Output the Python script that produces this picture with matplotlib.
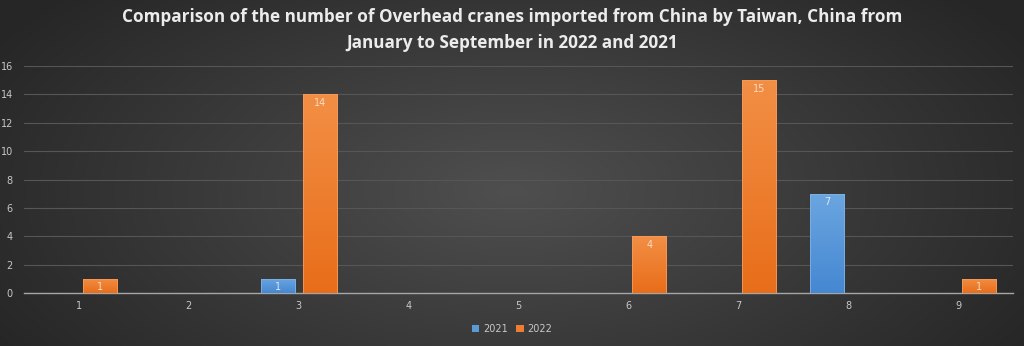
import numpy as np
import matplotlib
matplotlib.use("Agg")
import matplotlib.pyplot as plt
from matplotlib.patches import Rectangle, Patch

months = ["1", "2", "3", "4", "5", "6", "7", "8", "9"]
y2021 = [0, 0, 1, 0, 0, 0, 0, 7, 0]
y2022 = [1, 0, 14, 0, 0, 4, 15, 0, 1]
series_names = ["2021", "2022"]
yticks = [0, 2, 4, 6, 8, 10, 12, 14, 16]

title = ("Comparison of the number of Overhead cranes imported from China by Taiwan, China from\n"
         "January to September in 2022 and 2021")

W, H = 1024, 346
fig = plt.figure(figsize=(W / 100, H / 100), dpi=100)

# radial dark background
bg = fig.add_axes([0, 0, 1, 1])
bg.set_axis_off()
yy, xx = np.mgrid[0:H, 0:W]
r = np.sqrt(((xx - W * 0.5) / (W * 0.55)) ** 2 + ((yy - H * 0.55) / (H * 0.8)) ** 2)
shade = np.clip(0.31 - 0.15 * r, 0.15, 0.32)
bg.imshow(np.dstack([shade] * 3), extent=[0, 1, 0, 1], aspect="auto", zorder=0)
bg.set_xlim(0, 1)
bg.set_ylim(0, 1)

ax = fig.add_axes([24 / W, 1 - 293 / H, (1013 - 24) / W, (293 - 66) / H])
ax.patch.set_alpha(0)
x = np.arange(len(months))
bw = 0.31
off = 0.19

ax.set_xlim(-0.5, len(months) - 0.5)
ax.set_ylim(0, 16)


def grad_bar(xc, h, top, bottom, edge):
    if h <= 0:
        return
    rect = Rectangle((xc - bw / 2, 0), bw, h, facecolor="none", edgecolor="none")
    ax.add_patch(rect)
    g = np.linspace(0, 1, 100)[:, None, None]
    top = np.array(top)[None, None, :]
    bottom = np.array(bottom)[None, None, :]
    img = top * (1 - g) + bottom * g
    im = ax.imshow(img, extent=[xc - bw / 2, xc + bw / 2, 0, h], aspect="auto",
                   origin="upper", zorder=3)
    im.set_clip_path(rect)
    ax.add_patch(Rectangle((xc - bw / 2, 0), bw, h, facecolor="none",
                           edgecolor=edge, linewidth=0.6, zorder=3.5))


blue_top, blue_bot = (0.42, 0.65, 0.88), (0.27, 0.53, 0.82)
orng_top, orng_bot = (0.95, 0.56, 0.27), (0.91, 0.43, 0.10)

for i in range(len(months)):
    grad_bar(x[i] - off, y2021[i], blue_top, blue_bot, "#7fb2e2")
    grad_bar(x[i] + off, y2022[i], orng_top, orng_bot, "#f59a5a")
    if y2021[i] > 0:
        ax.text(x[i] - off, y2021[i] - 0.25, str(y2021[i]), ha="center", va="top",
                fontsize=7, color="#dbe8f5", zorder=4)
    if y2022[i] > 0:
        ax.text(x[i] + off, y2022[i] - 0.25, str(y2022[i]), ha="center", va="top",
                fontsize=7, color="#f8dcc4", zorder=4)

ax.set_xticks(x)
ax.set_xticklabels(months)
ax.set_yticks(yticks)
ax.grid(axis="y", color="#565656", linewidth=0.8, zorder=1)
ax.set_axisbelow(True)
for s in ["top", "right", "left"]:
    ax.spines[s].set_visible(False)
ax.spines["bottom"].set_color("#a6a6a6")
ax.spines["bottom"].set_linewidth(1.0)
ax.tick_params(axis="both", length=0, labelsize=7, colors="#c8c8c8", pad=6)
ax.tick_params(axis="y", pad=8)

handles = [Patch(facecolor="#5b9bd5", edgecolor="none"),
           Patch(facecolor="#ed7d31", edgecolor="none")]
fig.legend(handles, series_names, loc="center", bbox_to_anchor=(0.5, 1 - 329 / H),
           ncol=2, frameon=False, fontsize=7, labelcolor="#c8c8c8",
           handlelength=0.8, handleheight=0.8, handletextpad=0.4, columnspacing=0.8)

fig.text(0.5, 1 - 30 / H, title, ha="center", va="center", fontsize=12.3,
         fontweight="bold", color="#ececec", linespacing=1.6, family="Open Sans")

fig.savefig("out.png", dpi=100)
